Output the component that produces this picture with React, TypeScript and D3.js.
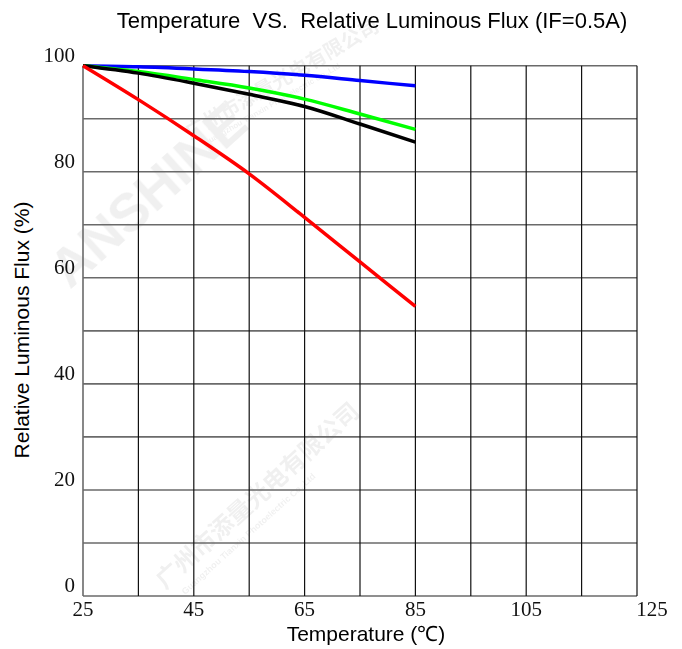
import { useRef, useEffect } from 'react';
import * as d3 from 'd3';

// Temperature (°C) sample points and relative luminous flux (%) per curve
const temps = [25, 35, 45, 55, 65, 75, 85];
const blueFlux = [100, 99.8, 99.4, 98.9, 98.2, 97.2, 96.2];
const greenFlux = [100, 98.9, 97.4, 95.8, 93.7, 90.9, 88.0];
const blackFlux = [100, 98.6, 96.7, 94.6, 92.3, 89.0, 85.6];
const redFlux = [100, 93.6, 86.8, 79.6, 71.4, 63.0, 54.6];

const xTickLabels = [25, 45, 65, 85, 105, 125];
const yTickLabels = [0, 20, 40, 60, 80, 100];

const W = 682;
const H = 649;

export default function App() {
  const svgRef = useRef<SVGSVGElement>(null);

  useEffect(() => {
    if (!svgRef.current) return;
    const svg = d3.select(svgRef.current);
    svg.selectAll('*').remove();

    const x = d3.scaleLinear().domain([25, 125]).range([83, 637]);
    const y = d3.scaleLinear().domain([0, 100]).range([596, 65.7]);

    svg.append('rect').attr('width', W).attr('height', H).attr('fill', '#fff');

    // faint watermark
    const wm = svg.append('g').attr('fill', '#000').attr('opacity', 0.06)
      .style('font-family', 'Liberation Sans, Arial, sans-serif').style('font-weight', 'bold');
    wm.append('text').attr('transform', 'translate(70,290) rotate(-42)')
      .style('font-size', '54px').text('ANSHINE');
    wm.append('text').attr('transform', 'translate(165,590) rotate(-42)')
      .style('font-size', '24px').style('font-family', 'Noto Sans CJK SC').text('广州市添量光电有限公司');
    wm.append('text').attr('transform', 'translate(185,595) rotate(-42)')
      .style('font-size', '9px').text('Guangzhou Tianxin Photoelectric Co.,Ltd');
    wm.append('text').attr('transform', 'translate(190,140) rotate(-30)')
      .style('font-size', '20px').style('font-family', 'Noto Sans CJK SC').text('广州市添量光电有限公司');
    wm.append('text').attr('transform', 'translate(205,146) rotate(-30)')
      .style('font-size', '8px').text('Guangzhou Tianxin Photoelectric Co.,Ltd');

    // grid
    const xGrid = d3.range(25, 126, 10);
    const yGrid = d3.range(0, 101, 10);
    svg.append('g').selectAll('line').data(yGrid).enter().append('line')
      .attr('x1', x(25)).attr('x2', x(125))
      .attr('y1', (d) => y(d)).attr('y2', (d) => y(d))
      .attr('stroke', '#6a6a6a').attr('stroke-width', 1.6);
    svg.append('g').selectAll('line').data(xGrid).enter().append('line')
      .attr('x1', (d) => x(d)).attr('x2', (d) => x(d))
      .attr('y1', y(0)).attr('y2', y(100))
      .attr('stroke', (d) => (d === 25 ? '#6a6a6a' : '#111'))
      .attr('stroke-width', (d) => (d === 25 ? 1.6 : 1.2));

    // curves
    const line = d3.line<number>()
      .x((_, i) => x(temps[i]))
      .y((d) => y(d))
      .curve(d3.curveMonotoneX);
    const series: [number[], string][] = [
      [blueFlux, '#0000ff'],
      [greenFlux, '#00ff00'],
      [blackFlux, '#000000'],
      [redFlux, '#ff0000'],
    ];
    series.forEach(([vals, color]) => {
      svg.append('path').attr('d', line(vals) || '')
        .attr('fill', 'none').attr('stroke', color).attr('stroke-width', 3.5);
    });

    // tick labels
    const serif = 'Liberation Serif, Times New Roman, serif';
    svg.append('g').selectAll('text').data(yTickLabels).enter().append('text')
      .attr('x', 75).attr('y', (d) => y(d) - 4)
      .attr('text-anchor', 'end')
      .style('font-family', serif).style('font-size', '21px')
      .attr('fill', '#111').text((d) => d);
    svg.append('g').selectAll('text').data(xTickLabels).enter().append('text')
      .attr('x', (d) => x(d) + (d === 125 ? 15 : 0)).attr('y', y(0) + 20)
      .attr('text-anchor', 'middle')
      .style('font-family', serif).style('font-size', '21px')
      .attr('fill', '#111').text((d) => d);

    const sans = 'Liberation Sans, Arial, sans-serif';
    svg.append('text').attr('x', 372).attr('y', 28).attr('text-anchor', 'middle')
      .style('font-family', sans).style('font-size', '22px').attr('fill', '#000')
      .style('white-space', 'pre')
      .text('Temperature  VS.  Relative Luminous Flux (IF=0.5A)');
    svg.append('text').attr('x', 366).attr('y', 641).attr('text-anchor', 'middle')
      .style('font-family', sans).style('font-size', '21px').attr('fill', '#000')
      .text('Temperature (℃)');
    svg.append('text').attr('transform', 'translate(29,330) rotate(-90)')
      .attr('text-anchor', 'middle')
      .style('font-family', sans).style('font-size', '21px').attr('fill', '#000')
      .text('Relative Luminous Flux (%)');
  }, []);

  return (
    <svg ref={svgRef} width={W} height={H}
      style={{ position: 'absolute', left: 0, top: 0, display: 'block' }} />
  );
}
